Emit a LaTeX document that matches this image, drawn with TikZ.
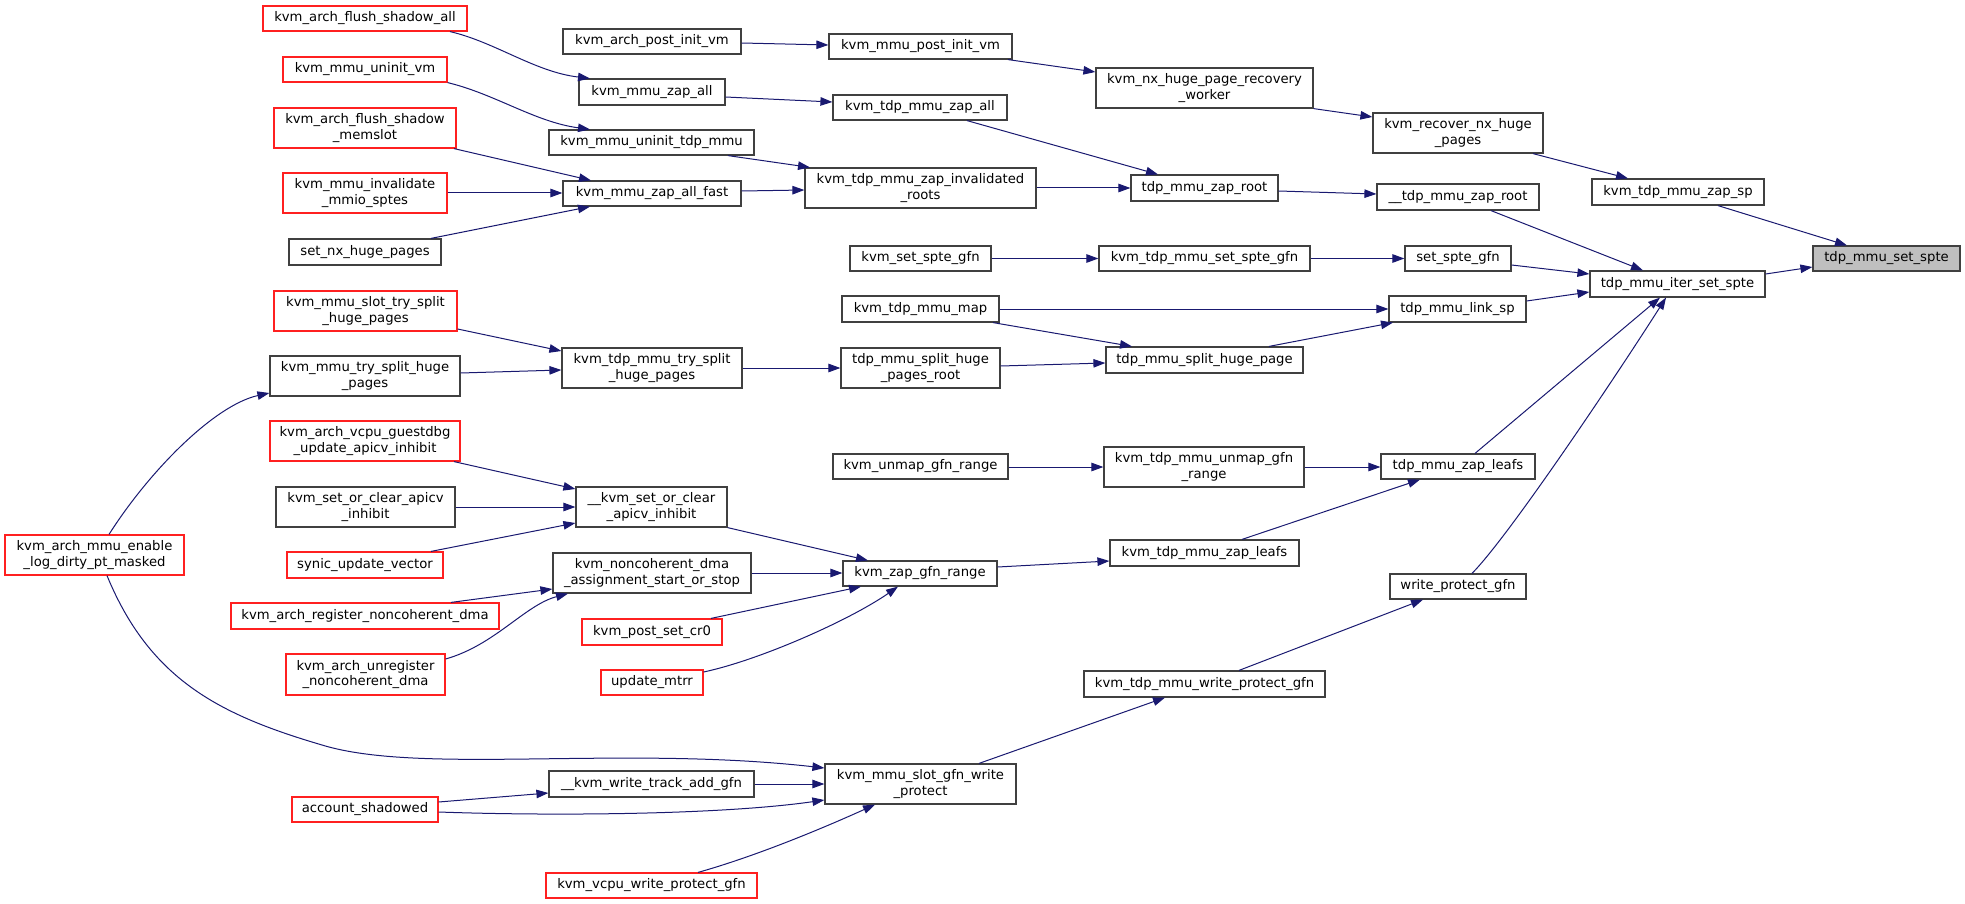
\documentclass[tikz,border=0pt]{standalone}
\usepackage{fontspec}
\setmainfont{DejaVu Sans}
\usetikzlibrary{arrows.meta}
\newcommand{\dxfont}{\fontsize{13.2}{15.3}\selectfont}
\newcommand{\dxnode}[7][]{%
 \pgfmathsetmacro\dxw{#5-#3}\pgfmathsetmacro\dxh{#6-#4}%
 \pgfmathsetmacro\dxx{(#3+#5)/2}\pgfmathsetmacro\dxy{(#4+#6)/2}%
 \node[box,#1,minimum width=\dxw pt,minimum height=\dxh pt] (#2) at (\dxx,\dxy) {#7};}
\definecolor{edgeblue}{HTML}{191970}
\definecolor{boxline}{HTML}{404040}
\definecolor{redline}{HTML}{FF2020}
\tikzset{
  box/.style={draw=boxline, line width=1.2pt, fill=white, inner sep=0pt, font=\dxfont, align=center, text=black},
  redbox/.style={draw=redline},
  rootbox/.style={fill=black!25},
  call/.style={draw=edgeblue, line width=1pt, -{Triangle[length=12pt,width=8.5pt]}, fill=none}
}
\begin{document}
\begin{tikzpicture}[x=1pt,y=-1pt]
\useasboundingbox (0,0) rectangle (1965,904);
% column 1
\dxnode[redbox]{fsa}{263}{6}{467}{31}{kvm\_arch\_flush\_shadow\_all}
\dxnode[redbox]{muv}{283}{57}{447}{82}{kvm\_mmu\_uninit\_vm}
\dxnode[redbox]{fsm}{274}{108}{456}{148}{kvm\_arch\_flush\_shadow\\\_memslot}
\dxnode[redbox]{imm}{283}{173}{447}{213}{kvm\_mmu\_invalidate\\\_mmio\_sptes}
\dxnode{snx}{289}{239}{441}{265}{set\_nx\_huge\_pages}
\dxnode[redbox]{stsp}{274}{291}{457}{331}{kvm\_mmu\_slot\_try\_split\\\_huge\_pages}
\dxnode{mtsp}{270}{356}{460}{396}{kvm\_mmu\_try\_split\_huge\\\_pages}
\dxnode[redbox]{gdbg}{270}{421}{460}{461}{kvm\_arch\_vcpu\_guestdbg\\\_update\_apicv\_inhibit}
\dxnode{scai}{276}{487}{455}{527}{kvm\_set\_or\_clear\_apicv\\\_inhibit}
\dxnode[redbox]{synic}{287}{552}{443}{578}{synic\_update\_vector}
\dxnode[redbox]{eld}{5}{535}{184}{575}{kvm\_arch\_mmu\_enable\\\_log\_dirty\_pt\_masked}
\dxnode[redbox]{arnd}{231}{603}{499}{629}{kvm\_arch\_register\_noncoherent\_dma}
\dxnode[redbox]{aund}{286}{654}{445}{695}{kvm\_arch\_unregister\\\_noncoherent\_dma}
\dxnode[redbox]{acc}{292}{797}{438}{822}{account\_shadowed}
% column 2
\dxnode{apiv}{563}{29}{741}{54}{kvm\_arch\_post\_init\_vm}
\dxnode{mza}{579}{79}{725}{105}{kvm\_mmu\_zap\_all}
\dxnode{mutm}{549}{130}{754}{155}{kvm\_mmu\_uninit\_tdp\_mmu}
\dxnode{mzaf}{563}{181}{741}{206}{kvm\_mmu\_zap\_all\_fast}
\dxnode{ttsp}{562}{348}{742}{388}{kvm\_tdp\_mmu\_try\_split\\\_huge\_pages}
\dxnode{uscai}{576}{487}{727}{527}{\_\_kvm\_set\_or\_clear\\\_apicv\_inhibit}
\dxnode{ncd}{553}{553}{751}{593}{kvm\_noncoherent\_dma\\\_assignment\_start\_or\_stop}
\dxnode[redbox]{psc}{582}{619}{722}{645}{kvm\_post\_set\_cr0}
\dxnode[redbox]{mtrr}{601}{670}{703}{695}{update\_mtrr}
\dxnode{wtag}{549}{771}{754}{797}{\_\_kvm\_write\_track\_add\_gfn}
\dxnode[redbox]{vwp}{546}{873}{757}{898}{kvm\_vcpu\_write\_protect\_gfn}
% column 3
\dxnode{mpiv}{829}{34}{1012}{59}{kvm\_mmu\_post\_init\_vm}
\dxnode{tza}{833}{95}{1007}{120}{kvm\_tdp\_mmu\_zap\_all}
\dxnode{zir}{805}{168}{1036}{208}{kvm\_tdp\_mmu\_zap\_invalidated\\\_roots}
\dxnode{kssg}{850}{246}{991}{271}{kvm\_set\_spte\_gfn}
\dxnode{map}{842}{296}{999}{322}{kvm\_tdp\_mmu\_map}
\dxnode{shpr}{841}{348}{1000}{388}{tdp\_mmu\_split\_huge\\\_pages\_root}
\dxnode{ugr}{833}{454}{1008}{479}{kvm\_unmap\_gfn\_range}
\dxnode{zgr}{843}{561}{997}{586}{kvm\_zap\_gfn\_range}
\dxnode{sgwp}{825}{764}{1016}{804}{kvm\_mmu\_slot\_gfn\_write\\\_protect}
% column 4
\dxnode{nxw}{1096}{68}{1313}{108}{kvm\_nx\_huge\_page\_recovery\\\_worker}
\dxnode{zr}{1131}{175}{1278}{201}{tdp\_mmu\_zap\_root}
\dxnode{tssg}{1099}{246}{1310}{271}{kvm\_tdp\_mmu\_set\_spte\_gfn}
\dxnode{shp}{1106}{347}{1303}{373}{tdp\_mmu\_split\_huge\_page}
\dxnode{tugr}{1104}{447}{1304}{487}{kvm\_tdp\_mmu\_unmap\_gfn\\\_range}
\dxnode{tzl}{1110}{540}{1299}{566}{kvm\_tdp\_mmu\_zap\_leafs}
\dxnode{twp}{1084}{671}{1325}{697}{kvm\_tdp\_mmu\_write\_protect\_gfn}
% column 5
\dxnode{rnx}{1373}{113}{1543}{153}{kvm\_recover\_nx\_huge\\\_pages}
\dxnode{uzr}{1377}{184}{1539}{210}{\_\_tdp\_mmu\_zap\_root}
\dxnode{ssg}{1405}{246}{1511}{271}{set\_spte\_gfn}
\dxnode{lsp}{1389}{296}{1526}{322}{tdp\_mmu\_link\_sp}
\dxnode{zl}{1381}{454}{1535}{479}{tdp\_mmu\_zap\_leafs}
\dxnode{wpg}{1390}{574}{1526}{599}{write\_protect\_gfn}
% column 6-7
\dxnode{zsp}{1592}{179}{1764}{205}{kvm\_tdp\_mmu\_zap\_sp}
\dxnode{iter}{1590}{271}{1765}{297}{tdp\_mmu\_iter\_set\_spte}
\dxnode[rootbox]{sspte}{1813}{246}{1960}{271}{tdp\_mmu\_set\_spte}
% edges
\draw[call] (fsa.south -| 450,0) .. controls (495,42) and (535,72) .. (mza.north -| 590,0);
\draw[call] (muv.south east) .. controls (495,94) and (535,122) .. (mutm.north -| 590,0);
\draw[call] (fsm.south -| 454,0) -- (mzaf.north -| 591,0);
\draw[call] (imm.east |- 0,193) -- (mzaf.west |- 0,193);
\draw[call] (snx.north -| 431,0) -- (mzaf.south -| 590,0);
\draw[call] (apiv.east |- 0,43) -- (mpiv.west |- 0,45);
\draw[call] (mpiv.south -| 1008,0) -- (nxw.west |- 0,72);
\draw[call] (mza.east |- 0,97) -- (tza.west |- 0,102);
\draw[call] (mutm.south -| 728,0) -- (zir.north -| 810,0);
\draw[call] (mzaf.east |- 0,191) -- (zir.west |- 0,190);
\draw[call] (tza.south -| 967,0) -- (zr.north -| 1158,0);
\draw[call] (zir.east |- 0,188) -- (zr.west |- 0,188);
\draw[call] (nxw.south east) -- (rnx.west |- 0,117);
\draw[call] (rnx.south -| 1533,0) -- (zsp.north -| 1628,0);
\draw[call] (zsp.south -| 1718,0) -- (sspte.north -| 1847,0);
\draw[call] (zr.east |- 0,191) -- (uzr.west |- 0,194);
\draw[call] (uzr.south -| 1491,0) -- (iter.north -| 1643,0);
\draw[call] (kssg.east) -- (tssg.west);
\draw[call] (tssg.east) -- (ssg.west);
\draw[call] (ssg.east |- 0,265) -- (iter.west |- 0,274);
\draw[call] (iter.east |- 0,274) -- (sspte.west |- 0,267);
\draw[call] (map.east) -- (lsp.west);
\draw[call] (map.south -| 993,0) -- (shp.north -| 1132,0);
\draw[call] (shp.north -| 1269,0) -- (lsp.south -| 1393,0);
\draw[call] (shpr.east |- 0,366) -- (shp.west |- 0,363);
\draw[call] (lsp.east |- 0,301) -- (iter.west |- 0,292);
\draw[call] (stsp.east |- 0,329) -- (ttsp.west |- 0,351);
\draw[call] (mtsp.east |- 0,373) -- (ttsp.west |- 0,370);
\draw[call] (ttsp.east) -- (shpr.west);
\draw[call] (eld.north -| 109,0) .. controls (150,470) and (215,405) .. (mtsp.west |- 0,393);
\draw[call] (eld.south -| 107,0) .. controls (150,680) and (220,715) .. (322,745) .. controls (420,775) and (620,745) .. (sgwp.west |- 0,768);
\draw[call] (gdbg.south -| 454,0) -- (uscai.west |- 0,489);
\draw[call] (scai.east |- 0,507) -- (uscai.west |- 0,507);
\draw[call] (synic.north -| 431,0) -- (uscai.west |- 0,523);
\draw[call] (uscai.south east) -- (zgr.north -| 868,0);
\draw[call] (arnd.north -| 451,0) -- (ncd.west |- 0,589);
\draw[call] (aund.east |- 0,659) .. controls (495,645) and (525,605) .. (ncd.south -| 568,0);
\draw[call] (ncd.east |- 0,573) -- (zgr.west |- 0,573);
\draw[call] (psc.north -| 711,0) -- (zgr.south -| 861,0);
\draw[call] (mtrr.east |- 0,672) .. controls (760,660) and (850,620) .. (zgr.south -| 898,0);
\draw[call] (zgr.east |- 0,567) -- (tzl.west |- 0,561);
\draw[call] (ugr.east |- 0,467) -- (tugr.west |- 0,467);
\draw[call] (tugr.east |- 0,467) -- (zl.west |- 0,467);
\draw[call] (tzl.north -| 1242,0) -- (zl.south -| 1420,0);
\draw[call] (zl.north -| 1475,0) -- (iter.south -| 1660,0);
\draw[call] (wpg.north -| 1472,0) .. controls (1510,535) and (1620,370) .. (iter.south -| 1666,0);
\draw[call] (twp.north -| 1239,0) -- (wpg.south -| 1423,0);
\draw[call] (sgwp.north -| 979,0) -- (twp.south -| 1165,0);
\draw[call] (acc.east |- 0,802) -- (wtag.west |- 0,793);
\draw[call] (acc.east |- 0,812) .. controls (550,816) and (720,815) .. (sgwp.west |- 0,800);
\draw[call] (wtag.east |- 0,784) -- (sgwp.west |- 0,784);
\draw[call] (vwp.north -| 698,0) .. controls (760,855) and (830,825) .. (sgwp.south -| 875,0);
\end{tikzpicture}
\end{document}
